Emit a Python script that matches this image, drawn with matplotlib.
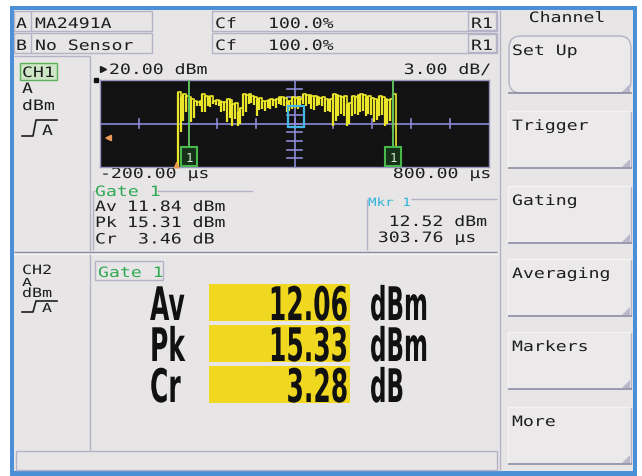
import numpy as np
import matplotlib
matplotlib.use("Agg")
import matplotlib.pyplot as plt
from matplotlib.patches import Rectangle, FancyBboxPatch, Polygon
from matplotlib.transforms import Affine2D
import matplotlib.patheffects as pe

# ---------------- data ----------------
sensor_ids = ["A", "B"]
sensor_names = ["MA2491A", "No Sensor"]
cal_factors = ["100.0%", "100.0%"]
range_labels = ["R1", "R1"]
menu_title = "Channel"
menu_items = ["Set Up", "Trigger", "Gating", "Averaging", "Markers", "More"]

ref_level_dbm = 20.0
scale_db_per_div = 3.0
n_vdiv = 10
time_start_us = -200.0
time_stop_us = 800.0
n_hdiv = 10

# trace: max / min envelope per 7 us sample, starting at 0 us
trace_t0_us = 0.0
trace_step_us = 7.0
trace_max_dbm = [15.8, 14.0, 15.2, 14.6, 14.2, 13.4, 12.9, 12.3, 12.6, 15.2,
                 14.6, 14.0, 14.4, 12.9, 13.2, 12.7, 12.3, 12.5, 13.4, 13.0,
                 11.7, 11.9, 8.9, 10.2, 15.2, 14.8, 15.2, 14.6, 14.0, 13.4,
                 13.8, 12.9, 12.6, 13.0, 13.4, 13.2, 13.6, 14.0, 14.2, 13.8,
                 12.9, 12.7, 14.0, 13.8, 14.2, 13.6, 15.2, 14.8, 15.0, 14.6,
                 14.4, 14.0, 13.8, 14.0, 13.4, 13.0, 13.4, 15.2, 14.8, 14.6,
                 14.2, 14.6, 11.7, 12.0, 14.6, 14.2, 14.8, 15.2, 15.0, 14.0,
                 14.4, 13.8, 13.4, 13.0, 14.6, 14.2, 13.4, 13.0, 13.6, 15.3]
trace_min_dbm = [-12.0, 2.0, 6.0, 9.0, 9.5, 5.4, 7.0, 11.0, 11.2, 9.0,
                 8.9, 11.1, 10.8, 11.7, 11.5, 11.0, 8.9, 9.2, 5.4, 7.0,
                 4.2, 6.5, 4.2, 5.0, 7.7, 9.0, 11.7, 12.0, 11.5, 7.7,
                 9.5, 10.0, 9.4, 10.2, 10.0, 11.0, 10.4, 11.7, 11.5, 11.1,
                 8.9, 9.4, 10.0, 10.4, 10.0, 10.6, 11.7, 11.2, 11.7, 10.0,
                 9.6, 11.1, 11.4, 11.1, 8.9, 9.4, 9.0, 4.2, 6.0, 7.7,
                 8.2, 7.7, 4.2, 5.0, 7.7, 8.4, 7.9, 8.9, 9.4, 7.7,
                 8.2, 7.9, 5.4, 6.2, 7.7, 8.0, 4.2, 5.0, 6.0, 3.0]
off_level_dbm = -15.0

gate_times_us = [29.0, 553.0]
trigger_level_dbm = 0.0
trigger_time_us = -3.0
marker_time_us = 303.76
marker_dbm = 12.52

meas_labels = ["Av", "Pk", "Cr"]
meas_units = ["dBm", "dBm", "dB"]
ch1_values = [11.84, 15.31, 3.46]
ch2_values = [12.06, 15.33, 3.28]

# ---------------- style ----------------
BG = "#e7e5e6"
LINE = "#b4b2c6"
DARK = "#8e8ca4"
TXT = "#1e1e1e"
GREEN = "#2faa52"
CYAN = "#2fb3d9"
YELLOW = "#f0d820"
TRACE = "#ece62a"
GRID = "#8c8ad4"
BLUE = "#4b8fd6"
ORANGE = "#e89a55"
MONO = "DejaVu Sans Mono"
FS = 10.3
SX = 1.27

W, H = 642, 477
fig = plt.figure(figsize=(W / 100, H / 100), dpi=100)
ui = fig.add_axes([0, 0, 1, 1])
ui.set_xlim(0, W)
ui.set_ylim(H, 0)
ui.axis("off")


class Stretch(pe.AbstractPathEffect):
    """Scale glyph outlines of a real Text artist about its anchor."""

    def __init__(self, sx=1.0, sy=1.0, ha="left"):
        super().__init__()
        self.sx, self.sy, self.ha = sx, sy, ha

    def draw_path(self, renderer, gc, tpath, affine, rgbFace=None):
        ext = tpath.get_extents()
        if self.ha == "right":
            x0 = ext.x1
        elif self.ha == "center":
            x0 = 0.5 * (ext.x0 + ext.x1)
        else:
            x0 = 0.0
        pre = Affine2D().translate(-x0, 0).scale(self.sx, self.sy).translate(x0, 0)
        renderer.draw_path(gc, tpath, pre + affine, rgbFace)


def txt(x, y, s, size=FS, sx=SX, sy=1.0, color=TXT, ha="left", family=MONO,
        weight="normal", z=6):
    t = ui.text(x, y, s, fontsize=size, color=color, ha=ha, va="baseline",
                family=family, weight=weight, zorder=z)
    t.set_path_effects([Stretch(sx, sy, ha)])
    return t


def rect(x0, y0, x1, y1, fc="none", ec=LINE, lw=1.0, z=2):
    ui.add_patch(Rectangle((x0, y0), x1 - x0, y1 - y0, facecolor=fc,
                           edgecolor=ec, linewidth=lw, zorder=z))


def hl(y, x0, x1, c=LINE, lw=1.0, z=3):
    ui.plot([x0, x1], [y, y], color=c, lw=lw, zorder=z, solid_capstyle="butt")


def vl(x, y0, y1, c=LINE, lw=1.0, z=3):
    ui.plot([x, x], [y0, y1], color=c, lw=lw, zorder=z, solid_capstyle="butt")


# ---------------- frame ----------------
ui.add_patch(Rectangle((10, 7), 627, 470, facecolor=BLUE, edgecolor="none", zorder=0))
ui.add_patch(Rectangle((14, 11), 619, 461, facecolor=BG, edgecolor="none", zorder=1))

# ---------------- header rows ----------------
for i in range(len(sensor_ids)):
    y0 = 12 + i * 22
    y1 = y0 + 20
    rect(14, y0, 152, y1)
    vl(31, y0, y1)
    rect(212, y0, 497, y1)
    rect(468, y0 + 1, 496, y1 - 1)
    txt(16, y0 + 17, sensor_ids[i])
    txt(35, y0 + 17, sensor_names[i])
    txt(215, y0 + 17, "Cf")
    txt(268, y0 + 17, cal_factors[i])
    txt(471, y0 + 17, range_labels[i])

# ---------------- menu ----------------
vl(500, 11, 472, LINE)
txt(567, 23, menu_title, ha="center")
btn_tops = [37, 112, 187, 260, 333, 408]
for k, (top, label) in enumerate(zip(btn_tops, menu_items)):
    bot = top + 57
    if k == 0:
        ui.add_patch(FancyBboxPatch((509, top), 122, bot - top,
                                    boxstyle="round,pad=0,rounding_size=12",
                                    facecolor="#ebe9ea", edgecolor=LINE, lw=1.0, zorder=2))
    else:
        rect(508, top, 631, bot, fc="#ebe9ea", ec="none")
        vl(631, top, bot, LINE)
        vl(508, top, bot, "#f4f3f4")
        hl(top, 508, 631, "#f4f3f4")
    hl(bot, 508, 632, DARK, lw=1.2)
    ui.add_patch(Polygon([[630, bot - 9], [630, bot - 1], [622, bot - 1]],
                         closed=True, facecolor="#b9b7c9", edgecolor="none", zorder=4))
    txt(512, top + 19, label)

# ---------------- CH1 panel ----------------
hl(57, 14, 90)
vl(90, 57, 252)
rect(20, 64, 57, 81, fc="#cfe6c6", ec="#5ab35a", lw=1.0, z=3)
txt(22, 78, "CH1")
txt(22, 94, "A")
txt(22, 111, "dBm")
ui.plot([22, 33, 36, 57], [137, 137, 121, 121], color=TXT, lw=1.2, zorder=4)
txt(42, 136, "A")

ui.plot([103], [70], marker=">", ms=4, color=TXT, zorder=5)
txt(109, 75, f"{ref_level_dbm:.2f} dBm")
txt(491, 75, f"{scale_db_per_div:.2f} dB/", ha="right")
ui.plot([96], [81], marker="s", ms=3, color="#111111", zorder=5)

# trace axes
px0, py0, px1, py1 = 100, 81, 489, 168
ax = fig.add_axes([px0 / W, 1 - py1 / H, (px1 - px0) / W, (py1 - py0) / H])
ax.set_facecolor("#121212")
bottom_dbm = ref_level_dbm - scale_db_per_div * n_vdiv
ax.set_xlim(time_start_us, time_stop_us)
ax.set_ylim(bottom_dbm, ref_level_dbm)
ax.set_xticks([])
ax.set_yticks([])
for s in ax.spines.values():
    s.set_color("#9896c0")
    s.set_linewidth(1.0)

mid_t = (time_start_us + time_stop_us) / 2
mid_db = (ref_level_dbm + bottom_dbm) / 2
hdiv = (time_stop_us - time_start_us) / n_hdiv
ax.axhline(mid_db, color=GRID, lw=1.2, zorder=1)
ax.axvline(mid_t, color=GRID, lw=1.2, zorder=1)
for k in range(1, n_hdiv):
    t = time_start_us + k * hdiv
    ax.plot([t, t], [mid_db - 1.5, mid_db + 1.5], color=GRID, lw=1.2, zorder=1)
for k in range(1, n_vdiv):
    d = bottom_dbm + k * scale_db_per_div
    ax.plot([mid_t - 18, mid_t + 18], [d, d], color=GRID, lw=1.2, zorder=1)

n = len(trace_max_dbm)
t_samples = np.array([trace_t0_us + trace_step_us * i for i in range(n)])
hi = np.array(trace_max_dbm)
lo = np.array(trace_min_dbm)
# per-sample min..max segments
ax.vlines(t_samples, lo, hi, color=TRACE, lw=1.6, zorder=3)
# upper envelope line
tx = [trigger_time_us] + list(t_samples) + [t_samples[-1] + trace_step_us]
ty = [off_level_dbm] + list(hi) + [off_level_dbm]
ax.plot(tx, ty, color=TRACE, lw=1.2, drawstyle="steps-post", zorder=3)

for g in gate_times_us:
    ax.axvline(g, color="#5cc05c", lw=1.4, zorder=4)
    ax.add_patch(Rectangle((g - 21, bottom_dbm + 0.3), 42, 6.6, facecolor="#16301a",
                           edgecolor="#49b84c", lw=1.5, zorder=5))
    ax.text(g, bottom_dbm + 3.4, "1", color="#cfeecd", fontsize=9, family=MONO,
            ha="center", va="center", zorder=6)

ax.add_patch(Rectangle((marker_time_us - 20, marker_dbm - 8.7), 40, 7.2,
                       facecolor="none", edgecolor="#45b6e6", lw=1.6, zorder=5))
ax.annotate("", xy=(time_start_us + 4, trigger_level_dbm),
            xytext=(time_start_us + 34, trigger_level_dbm),
            arrowprops=dict(arrowstyle="-|>", color=ORANGE, lw=1.5, mutation_scale=8),
            zorder=6)
ax.annotate("", xy=(trigger_time_us, bottom_dbm + 2.8),
            xytext=(trigger_time_us, bottom_dbm),
            arrowprops=dict(arrowstyle="-|>", color=ORANGE, lw=1.3, mutation_scale=7),
            zorder=6)

txt(100, 179, f"{time_start_us:.2f} µs")
txt(491, 179, f"{time_stop_us:.2f} µs", ha="right")

# gate box CH1
hl(192, 93, 95)
hl(192, 157, 253)
vl(93, 192, 251)
txt(95, 197, "Gate 1", color=GREEN)
for lab, val, unit, yb in zip(meas_labels, ch1_values, meas_units, [212, 228, 244.5]):
    txt(95, yb, lab)
    txt(127 + (11 if val < 10 else 0), yb, f"{val:.2f} {unit}")

# marker box
vl(367, 200, 251)
hl(200, 411, 497)
txt(368, 207, "Mkr 1", size=8.2, sx=1.25, color=CYAN)
txt(487, 227, f"{marker_dbm:.2f} dBm", ha="right")
txt(476, 243, f"{marker_time_us:.2f} µs", ha="right")

# separator
hl(252.5, 14, 497, DARK, lw=1.0)
hl(254.5, 14, 497, "#f6f5f6", lw=1.0)

# ---------------- CH2 panel ----------------
vl(90, 255, 452)
txt(22, 275, "CH2", size=8.0, sx=1.5, sy=1.15)
txt(22, 287, "A", size=8.0, sx=1.5, sy=1.0)
txt(22, 298, "dBm", size=8.0, sx=1.5, sy=1.15)
ui.plot([22, 33, 36, 57], [313, 313, 302, 302], color=TXT, lw=1.2, zorder=4)
txt(42, 313, "A", size=8.0, sx=1.5, sy=1.1)

rect(95, 262, 163, 281, ec=LINE)
txt(98, 278, "Gate 1", color=GREEN)

row_tops = [285, 326, 367]
for lab, val, unit, top in zip(meas_labels, ch2_values, meas_units, row_tops):
    rect(209, top, 350, top + 37, fc=YELLOW, ec="none", z=2)
    base = top + 36
    txt(150, base, lab, size=18, sx=1.0, sy=1.85, family="DejaVu Sans",
        weight="bold", color="#111111")
    txt(348, base, f"{val:.2f}", size=18, sx=1.0, sy=1.85, family="DejaVu Sans",
        weight="bold", color="#111111", ha="right")
    txt(370, base, unit, size=18, sx=0.92, sy=1.85, family="DejaVu Sans",
        weight="bold", color="#111111")

# status bar
rect(16, 452, 497, 471, ec=LINE)

fig.savefig("out.png", dpi=100, facecolor="white")
